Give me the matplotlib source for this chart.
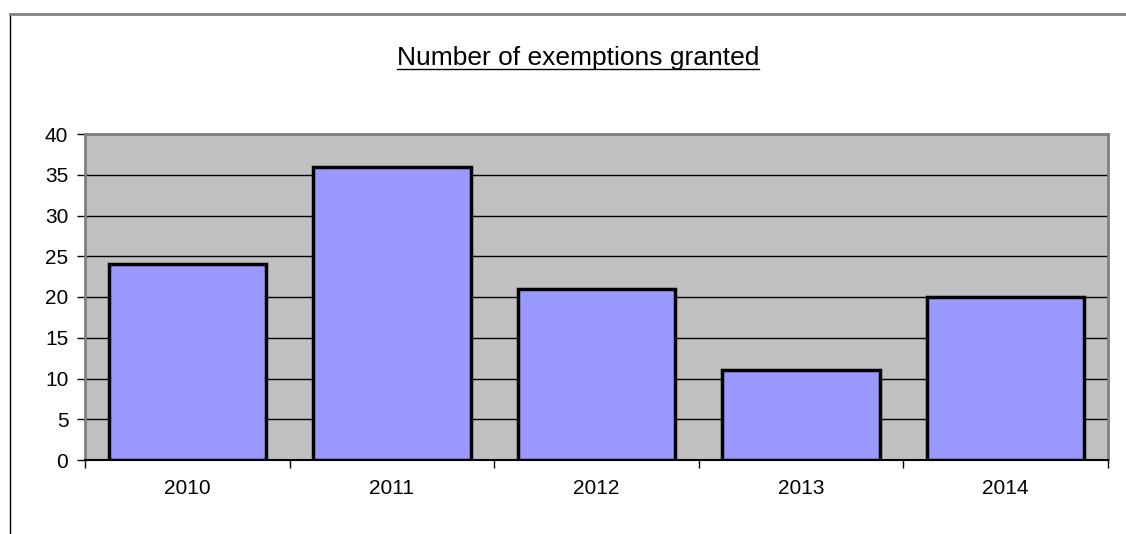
import numpy as np
import matplotlib
matplotlib.use("Agg")
import matplotlib.pyplot as plt
from matplotlib.lines import Line2D

# dados do gráfico
anos = ["2010", "2011", "2012", "2013", "2014"]
isencoes = [24, 36, 21, 11, 20]
y_ticks = [0, 5, 10, 15, 20, 25, 30, 35, 40]

plt.rcParams["font.family"] = ["Liberation Sans", "DejaVu Sans"]

fig = plt.figure(figsize=(11.26, 5.34), dpi=100)
ax = fig.add_axes([85 / 1126, 1 - 460 / 534, (1108 - 85) / 1126, (460 - 134) / 534])

ax.set_facecolor("#C0C0C0")
x = np.arange(len(anos))
ax.bar(x, isencoes, width=0.77, color="#9999FF", edgecolor="black", linewidth=2.5, zorder=3)

ax.set_xlim(-0.5, len(anos) - 0.5)
ax.set_ylim(0, 40)
ax.set_yticks(y_ticks)
ax.yaxis.grid(True, color="black", linewidth=1, zorder=1)
ax.set_axisbelow(True)

# marcadores do eixo x nas fronteiras das categorias
ax.set_xticks(np.arange(len(anos) + 1) - 0.5)
ax.set_xticklabels([])
ax.set_xticks(x, minor=True)
ax.set_xticklabels(anos, minor=True)
ax.tick_params(axis="x", which="minor", length=0, pad=14, labelsize=15)
ax.tick_params(axis="x", which="major", length=6, width=1, color="black", direction="out")
ax.tick_params(axis="y", length=6, width=1, color="black", direction="out", labelsize=15, pad=6)

for lado in ["top", "right", "left"]:
    ax.spines[lado].set_color("#808080")
    ax.spines[lado].set_linewidth(2)
ax.spines["bottom"].set_color("black")
ax.spines["bottom"].set_linewidth(1.5)

# título sublinhado
titulo = fig.text(578 / 1126, 1 - 58 / 534, "Number of exemptions granted",
                  ha="center", va="center", fontsize=19)
fig.canvas.draw()
bb = titulo.get_window_extent().transformed(fig.transFigure.inverted())
fig.add_artist(Line2D([bb.x0, bb.x1], [bb.y0 + 0.002, bb.y0 + 0.002],
                      transform=fig.transFigure, color="black", linewidth=1))

# moldura externa
fig.add_artist(Line2D([10 / 1126, 10 / 1126], [0, 1 - 14 / 534],
                      transform=fig.transFigure, color="black", linewidth=1))
fig.add_artist(Line2D([10 / 1126, 1], [1 - 14 / 534, 1 - 14 / 534],
                      transform=fig.transFigure, color="#808080", linewidth=2))

fig.savefig("out.png", dpi=100)
